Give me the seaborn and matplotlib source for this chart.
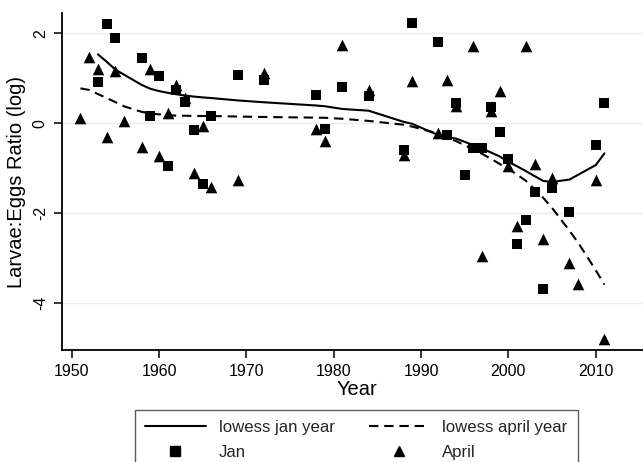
import numpy as np
import pandas as pd
import matplotlib
matplotlib.use("Agg")
import matplotlib.pyplot as plt
import seaborn as sns
from matplotlib.lines import Line2D

# ---------------- data ----------------
jan_year = [1953, 1954, 1955, 1958, 1959, 1960, 1961, 1962, 1963, 1964, 1965, 1966,
            1969, 1972, 1978, 1979, 1981, 1984, 1988, 1989, 1992, 1993, 1994, 1995,
            1996, 1997, 1998, 1999, 2000, 2001, 2002, 2003, 2004, 2005, 2007, 2010, 2011]
jan_ratio = [0.92, 2.21, 1.89, 1.44, 0.15, 1.04, -0.95, 0.74, 0.48, -0.15, -1.35, 0.15,
             1.06, 0.96, 0.63, -0.13, 0.80, 0.61, -0.60, 2.22, 1.81, -0.27, 0.44, -1.15,
             -0.56, -0.56, 0.35, -0.19, -0.80, -2.70, -2.15, -1.54, -3.70, -1.44, -1.99, -0.48, 0.44]

apr_year = [1951, 1952, 1953, 1954, 1955, 1956, 1958, 1959, 1960, 1961, 1962, 1963,
            1964, 1965, 1966, 1969, 1972, 1978, 1979, 1981, 1984, 1988, 1989, 1992,
            1993, 1994, 1996, 1997, 1998, 1999, 2000, 2001, 2002, 2003, 2004, 2005,
            2007, 2008, 2010, 2011]
apr_ratio = [0.11, 1.48, 1.20, -0.31, 1.15, 0.04, -0.54, 1.21, -0.74, 0.22, 0.85, 0.56,
             -1.11, -0.07, -1.42, -1.26, 1.11, -0.13, -0.39, 1.74, 0.74, -0.72, 0.94, -0.21,
             0.96, 0.38, 1.72, -2.96, 0.26, 0.72, -0.95, -2.28, 1.72, -0.90, -2.59, -1.22,
             -3.11, -3.59, -1.26, -4.80]

x_ticks = [1950, 1960, 1970, 1980, 1990, 2000, 2010]
y_ticks = [2, 0, -2, -4]
y_tick_labels = ["2", "0", "-2", "-4"]


def stata_lowess(x, y, bwidth=0.8):
    """Running-line lowess as in Stata (tricube weights, symmetric window)."""
    x = np.asarray(x, float)
    y = np.asarray(y, float)
    o = np.argsort(x, kind="stable")
    x, y = x[o], y[o]
    n = len(x)
    k = int(np.floor((n * bwidth - 0.5) / 2))
    fit = np.empty(n)
    for i in range(n):
        lo, hi = max(0, i - k), min(n - 1, i + k)
        xs, ys = x[lo:hi + 1], y[lo:hi + 1]
        delta = 1.0001 * max(x[hi] - x[i], x[i] - x[lo])
        w = (1 - (np.abs(xs - x[i]) / delta) ** 3) ** 3
        sw = w.sum()
        xm = (w * xs).sum() / sw
        ym = (w * ys).sum() / sw
        sxx = (w * (xs - xm) ** 2).sum()
        b = (w * (xs - xm) * (ys - ym)).sum() / sxx if sxx > 0 else 0.0
        fit[i] = ym + b * (x[i] - xm)
    return x, fit


jan = pd.DataFrame({"year": jan_year, "ratio": jan_ratio})
apr = pd.DataFrame({"year": apr_year, "ratio": apr_ratio})
jx, jfit = stata_lowess(jan_year, jan_ratio)
ax_, afit = stata_lowess(apr_year, apr_ratio)
jan_fit = pd.DataFrame({"year": jx, "fit": jfit})
apr_fit = pd.DataFrame({"year": ax_, "fit": afit})

# ---------------- style ----------------
sns.set_theme(style="white")
plt.rcParams["font.family"] = ["Liberation Sans", "DejaVu Sans"]

fig = plt.figure(figsize=(6.43, 4.62), dpi=100)
W, H = 643, 462
left, right, top, bottom = 61.7, 651.7, 13.3, 350.0
ax = fig.add_axes([left / W, 1 - bottom / H, (right - left) / W, (bottom - top) / H])

grid_c = "#e6eef0"
for yv in y_ticks:
    ax.axhline(yv, color=grid_c, lw=1.0, zorder=0)

sns.lineplot(data=jan_fit, x="year", y="fit", ax=ax, color="black", lw=1.5,
             estimator=None, sort=False, zorder=3)
sns.lineplot(data=apr_fit, x="year", y="fit", ax=ax, color="black", lw=1.5,
             estimator=None, sort=False, zorder=3, linestyle=(0, (4.5, 2.8)))
sns.scatterplot(data=jan, x="year", y="ratio", ax=ax, marker="s", s=48,
                color="black", edgecolor="black", linewidth=0, zorder=4)
sns.scatterplot(data=apr, x="year", y="ratio", ax=ax, marker="^", s=70,
                color="black", edgecolor="black", linewidth=0, zorder=4)

ax.set_xlim(1948.855, 1948.855 + (right - left) / 8.733)
ax.set_ylim(-5.051, 2.444)
ax.set_xticks(x_ticks)
ax.set_yticks(y_ticks)
ax.set_yticklabels(y_tick_labels, rotation=90, va="center")
ax.tick_params(axis="both", which="both", direction="out", length=6, width=1.1,
               color="black", labelsize=11.5, labelcolor="black", pad=4,
               bottom=True, left=True)
for s in ["top", "right"]:
    ax.spines[s].set_visible(False)
for s in ["left", "bottom"]:
    ax.spines[s].set_color("black")
    ax.spines[s].set_linewidth(1.3)

ax.set_xlabel("Year", fontsize=14.5, labelpad=1, color="black")
ax.set_ylabel("Larvae:Eggs Ratio (log)", fontsize=14.5, labelpad=5, color="black")

handles = [
    Line2D([], [], color="black", lw=1.5),
    Line2D([], [], color="black", marker="s", ls="none", markersize=6.5),
    Line2D([], [], color="black", lw=1.5, linestyle=(0, (4.5, 2.8))),
    Line2D([], [], color="black", marker="^", ls="none", markersize=7.5),
]
labels = ["lowess jan year", "Jan", "lowess april year", "April"]
leg = fig.legend(handles, labels, ncol=2, loc="upper left",
                 bbox_to_anchor=(135 / W, 1 - 410 / H), frameon=True,
                 fontsize=12.1, handlelength=3.6, handletextpad=0.8,
                 columnspacing=2.0, labelspacing=0.6, borderpad=0.6,
                 fancybox=False, borderaxespad=0)
leg.get_frame().set_edgecolor("#333333")
leg.get_frame().set_linewidth(1.0)

fig.savefig("out.png", dpi=100)
